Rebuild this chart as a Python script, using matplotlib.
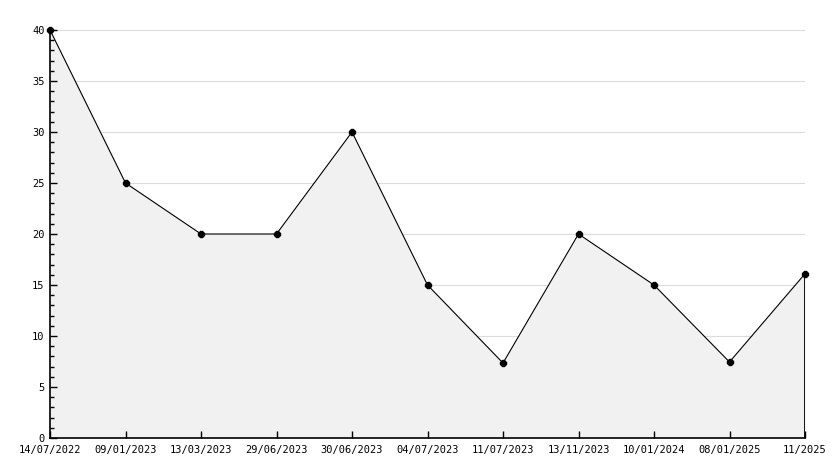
import matplotlib
matplotlib.use("Agg")
import matplotlib.pyplot as plt
from matplotlib.ticker import MultipleLocator

# data
dates = ["14/07/2022", "09/01/2023", "13/03/2023", "29/06/2023", "30/06/2023",
         "04/07/2023", "11/07/2023", "13/11/2023", "10/01/2024", "08/01/2025",
         "11/2025"]
values = [40, 25, 20, 20, 30, 15, 7.35, 20, 15, 7.45, 16.1]
grid_levels = [5, 10, 15, 20, 25, 30, 35, 40]

plt.rcParams['font.family'] = ['DejaVu Sans Mono']
plt.rcParams['font.size'] = 7.5

fig = plt.figure(figsize=(8.34, 4.68), dpi=100)
ax = fig.add_axes([50 / 834, 30 / 468, 755 / 834, 408 / 468])

xs = list(range(len(values)))

# grid lines sit behind the shaded area
for g in grid_levels:
    ax.axhline(g, color="#dcdcdc", linewidth=0.8, zorder=0.5)

# shaded area under the line
ax.fill_between(xs, values, 0, color="#f1f1f1", linewidth=0, zorder=1)
ax.plot(xs, values, color="black", linewidth=0.8, zorder=3)
ax.plot([xs[-1], xs[-1]], [0, values[-1]], color="black", linewidth=1.3, zorder=3)
ax.plot(xs, values, linestyle="none", marker="8", markersize=4.5,
        color="black", zorder=4, clip_on=False)

ax.set_xlim(xs[0], xs[-1])
ax.set_ylim(0, 40)

ax.yaxis.set_major_locator(MultipleLocator(5))
ax.yaxis.set_minor_locator(MultipleLocator(1))
ax.set_xticks(xs)
ax.set_xticklabels(dates)

for side in ["top", "right"]:
    ax.spines[side].set_visible(False)
for side in ["left", "bottom"]:
    ax.spines[side].set_linewidth(1.2)
    ax.spines[side].set_zorder(5)

ax.tick_params(axis="both", which="major", direction="in", length=5, width=1,
               colors="black", labelsize=7.5)
ax.tick_params(axis="y", which="minor", direction="in", length=3, width=1)
ax.tick_params(axis="x", pad=5)
ax.tick_params(axis="y", pad=4)

fig.savefig("out.png", dpi=100)
